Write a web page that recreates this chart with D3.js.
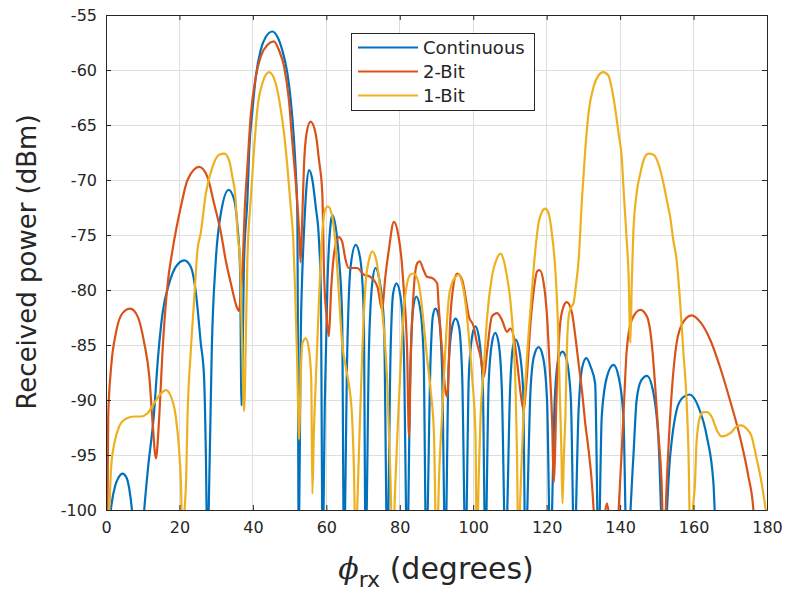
<!DOCTYPE html>
<html><head><meta charset="utf-8">
<script src="https://cdn.jsdelivr.net/npm/d3@7"></script>
<style>
html,body{margin:0;padding:0;background:#fff;}
text{font-family:"DejaVu Sans",sans-serif;fill:#262626;}
</style></head>
<body><svg id="chart" width="789" height="596"></svg>
<script>
const seriesNames = ["Continuous", "2-Bit", "1-Bit"];
const seriesColors = ["#0072BD", "#D95319", "#EDB120"];
const xTicks = [0,20,40,60,80,100,120,140,160,180];
const yTicks = [-100,-95,-90,-85,-80,-75,-70,-65,-60,-55];

// [angle (deg), received power (dBm)]
const continuous = [[0,-104],[1.0,-101],[1.5,-99.5],[2.5,-97.8],[3.5,-97.0],[4.5,-96.7],[5.5,-97.0],[6.3,-98],[7.2,-100.5],[8.2,-106],
[9.5,-104],[10.4,-100],[11.5,-96],[13,-91.5],[14.2,-86],[15.4,-82.1],[17.2,-79.4],[19.0,-77.9],[21.3,-77.3],[23.1,-77.9],[24.5,-80.3],[25.8,-84.8],[26.7,-87.9],[27.2,-95],[27.6,-104],
[28.2,-96],[28.8,-85.5],[29.9,-77.3],[31.3,-73.0],[33.4,-70.9],[34.9,-71.8],[35.8,-74.2],[36.5,-78],[36.9,-90.5],
[37.6,-77.3],[38.5,-71.8],[39.0,-67.3],[39.9,-63.6],[40.8,-60.6],[42.1,-58.2],[43.5,-57.0],[45.3,-56.5],[46.7,-57.0],[48.0,-58.2],[49.4,-60.3],[50.3,-62.7],[51.2,-66.4],[51.7,-69.4],[52.1,-73],[52.5,-104],
[53.0,-85],[53.5,-78],[53.9,-74.8],[54.6,-70.6],[55.3,-69.1],[56.2,-70.0],[57.1,-72.4],[58.0,-75.5],[58.5,-80],[59.0,-104],
[59.6,-90],[60.3,-79.4],[61.2,-73.9],[61.6,-73.2],[62.5,-74.2],[63.4,-77.0],[64.3,-82.4],[64.8,-104],
[65.7,-85.5],[66.6,-77.9],[68.0,-75.9],[69.3,-77.3],[70.2,-82.4],[70.7,-104],
[71.6,-85.5],[72.5,-79.4],[73.4,-78.0],[74.3,-78.8],[75.7,-83.0],[76.6,-104],
[77.5,-85.5],[78.2,-80.3],[79.1,-79.4],[80.2,-80.6],[81.1,-85.5],[82.0,-104],
[82.9,-87.0],[83.6,-81.8],[84.5,-80.6],[85.6,-81.8],[86.5,-86.1],[87.2,-104],
[88.4,-86.1],[89.0,-82.4],[89.7,-81.7],[90.6,-82.4],[91.5,-87.0],[92.4,-104],
[93.3,-87.0],[94.3,-83.3],[95.2,-82.6],[96.1,-83.3],[97.0,-87.9],[97.9,-104],
[98.8,-87.9],[99.7,-84.2],[100.6,-83.3],[101.5,-84.2],[102.6,-88.5],[103.3,-104],
[104.2,-88.5],[105.1,-84.8],[106.0,-83.9],[106.9,-84.8],[107.8,-89.1],[108.8,-104],
[110.1,-88.5],[110.8,-85.2],[111.5,-84.5],[112.4,-85.2],[113.6,-89.1],[114.2,-104],
[115.6,-89.1],[116.5,-86.1],[117.8,-85.2],[119.0,-86.1],[120.1,-90],[121.0,-104],
[122.2,-90],[123.2,-86.3],[124.3,-85.6],[125.4,-86.3],[126.6,-90],[127.5,-104],
[128.7,-90.9],[129.7,-87],[130.8,-86.2],[132,-87],[133.2,-88.5],[134.1,-104],
[135.0,-91.5],[136.4,-87.9],[138.2,-86.8],[139.6,-87.9],[140.9,-91.5],[141.8,-104],
[143.6,-95.2],[144.5,-90],[145.8,-88.2],[147.3,-87.8],[149.1,-89.4],[150.4,-93.3],[151.8,-104],
[153.6,-95.2],[155.4,-90.9],[157,-89.8],[158.9,-89.5],[161.3,-90.6],[163.6,-93.3],[165.4,-97.5],[166.2,-104],[167,-110]];

const twoBit = [[0,-104],[0.4,-100],[0.6,-91.5],[1.4,-87],[2.7,-83.9],[4.5,-82.1],[6.6,-81.7],[8.6,-82.4],[10.4,-84.8],[11.8,-87.9],[12.7,-92.1],[13.6,-95.3],[14.5,-91.5],[15.4,-85.5],[16.8,-79.4],[18.1,-76.4],[20.4,-72.4],[22.2,-70.0],[25.4,-68.8],[27.6,-69.7],[29.4,-72.1],[31.3,-74.8],[32.6,-77.3],[34.0,-79.4],[35.8,-81.7],[36.2,-81.9],[36.8,-80],[37.3,-77],[37.8,-72.5],[38.5,-68.8],[39.4,-64.2],[40.8,-60.6],[42.1,-58.8],[44.0,-57.7],[45.7,-57.4],[47.1,-58.2],[48.5,-59.7],[49.8,-62.7],[50.7,-66.4],[51.7,-70.3],[52.6,-74.8],[53.0,-77.5],[53.4,-74],[53.9,-68.8],[54.6,-65.8],[55.7,-64.7],[57.1,-65.8],[58.0,-68.2],[58.9,-71.2],[59.4,-78.8],[60.1,-82.5],[60.7,-84.2],[61.3,-80],[62.2,-76.5],[63.4,-75.2],[64.3,-75.6],[65.2,-77.2],[66.1,-78.0],[68.4,-78.0],[70.2,-78.6],[72.0,-78.8],[73.9,-79.7],[75.2,-81.8],[76.0,-79],[77.0,-76.4],[78.4,-73.8],[79.7,-75.2],[80.5,-77.3],[81.1,-80.0],[81.6,-82.4],[82.0,-85.5],[82.5,-93.3],[83.0,-86],[83.8,-80.0],[84.7,-77.6],[85.4,-77.4],[86.5,-78.2],[87.4,-78.8],[88.8,-78.9],[90.2,-79.4],[90.6,-81.5],[91.5,-85.5],[92.4,-89.1],[92.9,-89.7],[93.8,-82.4],[94.7,-79.4],[95.6,-78.5],[97.0,-79.1],[97.9,-80.6],[98.8,-82.4],[100.1,-83.3],[101.0,-84.8],[102.0,-86.1],[102.9,-87.9],[103.8,-85.5],[105.1,-82.4],[106.5,-82.1],[107.8,-82.7],[109.2,-83.8],[110.1,-83.5],[111.0,-84.2],[112.0,-86.7],[112.8,-89.1],[113.7,-90.9],[114.6,-87.9],[115.6,-83.0],[116.5,-80.0],[117.4,-78.3],[118.1,-78.2],[119.2,-79.4],[120.1,-82.4],[120.8,-86.9],[121.5,-92.1],[121.9,-97.5],[122.8,-88.5],[123.7,-83.0],[124.6,-81.5],[125.5,-81.1],[126.9,-82.1],[127.8,-84.2],[128.7,-86.7],[129.6,-89.1],[130.5,-92.1],[131.4,-94.5],[132.3,-97.5],[133.0,-101],[134.5,-106],[135.8,-100.5],[136.4,-99.4],[137,-100.5],[138.2,-106],[139.6,-100],[140.9,-91.5],[141.8,-85.5],[143.2,-82.7],[145.5,-81.8],[147.3,-82.4],[148.6,-84.8],[149.5,-88.5],[150.4,-93.0],[151.3,-97.5],[151.9,-104],[152.7,-97.5],[154.1,-89.1],[155.4,-84.8],[157.2,-82.9],[159.5,-82.3],[161.8,-82.9],[164.5,-84.5],[167.2,-87.0],[169.9,-90.0],[172.6,-93.3],[174.9,-96.9],[176.3,-100],[177,-104]];

const oneBit = [[0,-104],[0.9,-100],[1.4,-96.1],[2.3,-93.9],[3.6,-92.4],[5.4,-91.7],[7.7,-91.5],[9.5,-91.5],[11.3,-91.2],[13.1,-90.3],[15.0,-89.4],[16.3,-89.1],[17.7,-89.7],[19.0,-91.5],[19.9,-94.5],[20.4,-97.5],[20.9,-104],[21.4,-100],[21.8,-97.5],[22.2,-91.5],[23.1,-85.5],[24.0,-80.9],[24.9,-76.4],[25.8,-74.8],[27.2,-71.2],[29.0,-68.8],[30.8,-67.7],[32.2,-67.6],[33.5,-68.2],[34.4,-69.7],[35.3,-71.8],[35.8,-74.8],[36.5,-77.3],[37.0,-84],[37.6,-91],[38.1,-84],[38.5,-77.3],[39.4,-71.8],[40.3,-67.3],[41.2,-63.6],[42.6,-61.2],[44.4,-60.2],[46.2,-61.2],[47.6,-63.6],[48.5,-65.8],[49.4,-68.8],[50.3,-72.4],[51.0,-75.5],[51.5,-80],[52.1,-87.0],[52.6,-93.6],[53.0,-88],[53.5,-84.8],[54.4,-84.4],[55.3,-85.5],[55.9,-88.2],[56.2,-98.5],[56.6,-93],[57.1,-88.5],[58.0,-80.9],[58.9,-74.8],[59.8,-72.6],[60.4,-72.4],[61.6,-73.3],[62.5,-75.8],[63.4,-80.3],[64.3,-84.8],[65.3,-87.0],[66.1,-88.5],[67.0,-91.5],[67.5,-96.1],[68.0,-104],[68.4,-100],[68.9,-94.5],[69.8,-85.5],[70.7,-79.4],[71.6,-77.3],[72.5,-76.5],[73.4,-77.0],[74.3,-78.8],[75.2,-81.8],[76.1,-85.5],[76.6,-88.5],[77.5,-97.5],[78.0,-104],[78.8,-97.5],[79.5,-92],[80.2,-87.0],[81.1,-81.8],[82.0,-79.4],[82.9,-78.6],[83.8,-78.5],[84.7,-78.9],[85.6,-80.3],[86.5,-83.0],[87.4,-86.1],[88.4,-89.1],[89.3,-93.0],[90.0,-104],[90.8,-96],[91.5,-91.5],[92.4,-85.5],[93.3,-80.9],[94.2,-79.4],[95.2,-78.8],[96.1,-78.6],[97.0,-79.4],[97.9,-81.2],[98.8,-84.2],[99.7,-87.9],[100.6,-93.0],[101.0,-104],[101.5,-97],[102.0,-91.5],[102.9,-87.0],[103.8,-82.4],[105.1,-78.8],[106.5,-77.1],[107.5,-76.7],[108.3,-77.3],[109.2,-78.8],[110.1,-80.9],[111.0,-84.8],[111.5,-88.5],[111.9,-94.5],[112.3,-104],[112.8,-99],[113.3,-94.5],[114.2,-88.5],[115.1,-83.9],[116.0,-80.0],[116.9,-76.4],[117.8,-73.9],[118.7,-72.9],[119.6,-72.6],[120.5,-73.0],[121.4,-74.8],[122.3,-77.9],[123.0,-82.4],[123.5,-88.5],[124.0,-94.5],[124.3,-99.4],[124.7,-95],[125.1,-91.5],[125.5,-85.5],[126.0,-82.4],[126.6,-81.6],[127.3,-81.2],[128.0,-79.5],[128.7,-77.3],[129.6,-71.8],[130.5,-67.3],[131.4,-63.9],[132.8,-61.5],[134.1,-60.5],[135.4,-60.2],[136.8,-60.5],[137.8,-61.8],[138.7,-63.6],[139.6,-65.8],[140.5,-68.2],[140.9,-70.6],[141.4,-73.3],[141.8,-75.5],[142.3,-78.5],[142.8,-84.8],[143.2,-79],[143.6,-74.8],[144.5,-71.2],[145.5,-69.4],[146.4,-68.2],[147.7,-67.6],[149.1,-67.7],[150.4,-68.5],[151.8,-70.3],[152.7,-71.8],[153.6,-73.3],[154.5,-75.5],[155.4,-77.3],[156.3,-80.9],[157.2,-85.5],[158.1,-90.0],[158.6,-94.5],[159.2,-104],[159.8,-100],[160.4,-97.5],[160.8,-93.9],[161.8,-91.5],[162.7,-91.1],[163.6,-91.1],[164.9,-91.5],[166.3,-92.7],[167.6,-93.3],[169.0,-93.2],[170.4,-92.9],[171.7,-92.4],[173.1,-92.3],[174.4,-92.6],[175.8,-93.3],[177.1,-95.2],[178.5,-97.5],[179.4,-99.4],[180,-101]];

const allSeries = [continuous, twoBit, oneBit];

const L = 106, R = 767, T = 15, B = 510;
const svg = d3.select("#chart");
svg.append("rect").attr("width",789).attr("height",596).attr("fill","#fff");

const x = d3.scaleLinear().domain([0,180]).range([L,R]);
const y = d3.scaleLinear().domain([-100,-55]).range([B,T]);

// grid
const grid = svg.append("g").attr("stroke","#dedede").attr("stroke-width",1).attr("shape-rendering","crispEdges");
xTicks.forEach(t=>grid.append("line").attr("x1",x(t)).attr("x2",x(t)).attr("y1",T).attr("y2",B));
yTicks.forEach(t=>grid.append("line").attr("x1",L).attr("x2",R).attr("y1",y(t)).attr("y2",y(t)));

// clip
svg.append("defs").append("clipPath").attr("id","clip").append("rect")
  .attr("x",L).attr("y",T).attr("width",R-L).attr("height",B-T);

const line = d3.line().x(d=>x(d[0])).y(d=>y(d[1])).curve(d3.curveMonotoneX);
const lg = svg.append("g").attr("clip-path","url(#clip)");
allSeries.forEach((s,i)=>{
  lg.append("path").datum(s).attr("d",line).attr("fill","none")
    .attr("stroke",seriesColors[i]).attr("stroke-width",2.2).attr("stroke-linejoin","round");
});

// axes with inward ticks on all sides
const fmt = d => String(d);
const axB = d3.axisBottom(x).tickValues(xTicks).tickSizeInner(-5).tickSizeOuter(0).tickPadding(12).tickFormat(fmt);
const axT = d3.axisTop(x).tickValues(xTicks).tickSizeInner(-5).tickSizeOuter(0).tickFormat("");
const axLf = d3.axisLeft(y).tickValues(yTicks).tickSizeInner(-5).tickSizeOuter(0).tickPadding(9).tickFormat(fmt);
const axRt = d3.axisRight(y).tickValues(yTicks).tickSizeInner(-5).tickSizeOuter(0).tickFormat("");
function style(g){
  g.select(".domain").attr("stroke","#262626");
  g.selectAll(".tick line").attr("stroke","#262626");
  g.selectAll(".tick text").attr("font-family","DejaVu Sans").attr("font-size",16).attr("fill","#262626");
}
svg.append("g").attr("transform",`translate(0,${B})`).call(axB).call(style);
svg.append("g").attr("transform",`translate(0,${T})`).call(axT).call(style);
svg.append("g").attr("transform",`translate(${L},0)`).call(axLf).call(style);
svg.append("g").attr("transform",`translate(${R},0)`).call(axRt).call(style);

// axis titles
svg.append("text").attr("transform","translate(36,262) rotate(-90)")
  .attr("text-anchor","middle").attr("font-size",26).text("Received power (dBm)");
const xt = svg.append("text").attr("x",436).attr("y",579).attr("text-anchor","middle").attr("font-size",30);
xt.append("tspan").attr("font-family","DejaVu Serif").attr("font-style","italic").text("ϕ");
xt.append("tspan").attr("font-size",22).attr("dy",8).text("rx");
xt.append("tspan").attr("dy",-8).text(" (degrees)");

// legend
const leg = svg.append("g");
leg.append("rect").attr("x",351.5).attr("y",33.5).attr("width",183).attr("height",77)
  .attr("fill","#fff").attr("stroke","#262626").attr("stroke-width",1);
seriesNames.forEach((n,i)=>{
  const yy = 47.5 + i*24;
  leg.append("line").attr("x1",358).attr("x2",418).attr("y1",yy).attr("y2",yy)
    .attr("stroke",seriesColors[i]).attr("stroke-width",2.2);
  leg.append("text").attr("x",423).attr("y",yy).attr("dy","0.35em").attr("font-size",18).text(n);
});
</script></body></html>
